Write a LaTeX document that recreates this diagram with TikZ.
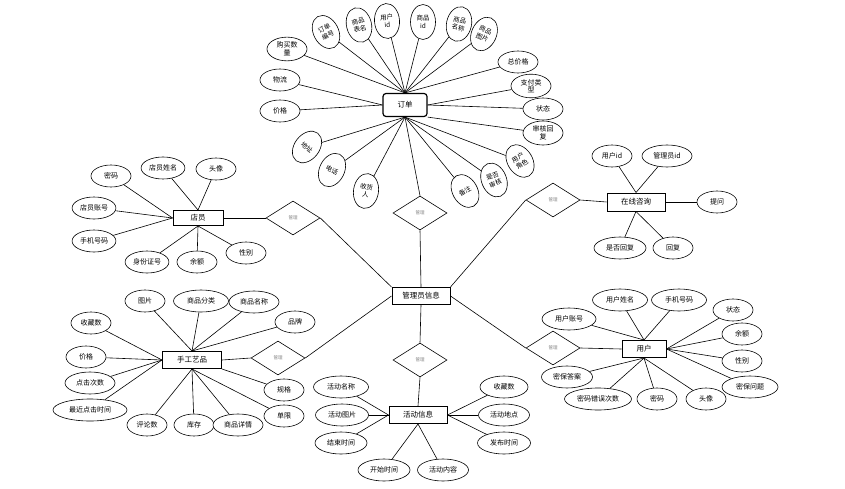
\documentclass[tikz,border=0pt]{standalone}
\usepackage{fontspec}
\newfontfamily\cjk{Noto Sans CJK SC}
\usetikzlibrary{shapes.geometric}

\begin{document}
\begin{tikzpicture}[x=1pt,y=-1pt,
  attr/.style={ellipse,draw,line width=0.6pt,fill=white,minimum width=40pt,minimum height=22pt,inner sep=1.5pt,align=center,font=\cjk\fontsize{7}{7.5}\selectfont},
  fan/.style={ellipse,draw,line width=0.6pt,fill=white,minimum width=25pt,minimum height=35pt,inner sep=0.5pt,align=center,font=\cjk\fontsize{6.5}{8}\selectfont},
  entity/.style={rectangle,draw,line width=1pt,fill=white,minimum height=17pt,inner sep=2pt,font=\cjk\fontsize{7.5}{8}\selectfont},
  rel/.style={diamond,draw,line width=0.6pt,fill=white,minimum width=54pt,minimum height=34pt,inner sep=0pt,text=gray,font=\cjk\fontsize{4.5}{5}\selectfont},
  link/.style={line width=0.6pt}]
  \useasboundingbox (0,0) rectangle (845,489);

  % entities
  \node[entity,rounded corners=3pt,minimum width=44pt,minimum height=23pt,line width=1.2pt] (order) at (405,105) {订单};
  \node[entity,minimum width=50pt,minimum height=15pt] (clerk)   at (198,218) {店员};
  \node[entity,minimum width=58pt,minimum height=18pt] (consult) at (636,202) {在线咨询};
  \node[entity,minimum width=59pt] (craft) at (192,360) {手工艺品};
  \node[entity,minimum width=58pt] (admin) at (421,296) {管理员信息};
  \node[entity,minimum width=58pt] (act)   at (418,415) {活动信息};
  \node[entity,minimum width=44pt] (user)  at (644,349) {用户};

  % relations
  \node[rel] (mgClerk)   at (293,218) {管理};
  \node[rel] (mgOrder)   at (420,213) {管理};
  \node[rel] (mgConsult) at (553,200) {管理};
  \node[rel] (mgCraft)   at (278,358) {管理};
  \node[rel] (mgAct)     at (420,360) {管理};
  \node[rel] (mgUser)    at (553,348) {管理};

  % order
  \node[fan,rotate=28]  (oNo)    at (326,32) {订单\\编号};
  \node[fan,rotate=14]  (oTable) at (359,25) {商品\\表名};
  \node[fan,rotate=4]   (oUid)   at (387,21) {用户\\id};
  \node[fan]            (oGid)   at (423,22) {商品\\id};
  \node[fan,rotate=-12] (oGname) at (459,24) {商品\\名称};
  \node[fan,rotate=-24] (oGpic)  at (484,34) {商品\\图片};
  \node[fan,rotate=-38] (oAddr)  at (307,147) {地址};
  \node[fan,rotate=-26] (oTel)   at (332,170) {电话};
  \node[fan,rotate=-8]  (oRecv)  at (366,191) {收货\\人};
  \node[fan,rotate=30]  (oNote)  at (465,191) {备注};
  \node[fan,rotate=22]  (oAudit) at (494,180) {是否\\审核};
  \node[fan,rotate=32]  (oRole)  at (520,161) {用户\\角色};
  \node[attr] (oNum)    at (287,49)  {购买数\\量};
  \node[attr] (oShip)   at (280,80)  {物流};
  \node[attr] (oPrice)  at (280,111) {价格};
  \node[attr] (oTotal)  at (518,62)  {总价格};
  \node[attr] (oPay)    at (531,86)  {支付类\\型};
  \node[attr] (oState)  at (543,109) {状态};
  \node[attr] (oReply)  at (543,133) {审核回\\复};

  % clerk
  \node[attr] (cPwd)   at (111,176) {密码};
  \node[attr] (cName)  at (163,168) {店员姓名};
  \node[attr] (cHead)  at (216,169) {头像};
  \node[attr] (cAcc)   at (94,208)  {店员账号};
  \node[attr] (cTel)   at (94,241)  {手机号码};
  \node[attr] (cId)    at (147,262) {身份证号};
  \node[attr] (cMoney) at (197,262) {余额};
  \node[attr] (cSex)   at (246,253) {性别};

  % consult
  \node[attr] (qUid)   at (612,156) {用户id};
  \node[attr,minimum width=50pt] (qAid) at (667,156) {管理员id};
  \node[attr] (qAsk)   at (717,202) {提问};
  \node[attr,minimum width=52pt] (qDone) at (620,248) {是否回复};
  \node[attr] (qAns)   at (673,248) {回复};

  % craft
  \node[attr] (gPic)   at (145,301) {图片};
  \node[attr,minimum width=55pt] (gType) at (201,301) {商品分类};
  \node[attr,minimum width=50pt] (gName) at (254,302) {商品名称};
  \node[attr] (gBrand) at (295,322) {品牌};
  \node[attr] (gFav)   at (91,323)  {收藏数};
  \node[attr] (gPrice) at (86,357)  {价格};
  \node[attr,minimum width=50pt] (gClick) at (90,383) {点击次数};
  \node[attr,minimum width=74pt] (gLast)  at (90,410) {最近点击时间};
  \node[attr] (gCmt)   at (147,425) {评论数};
  \node[attr] (gStock) at (194,425) {库存};
  \node[attr,minimum width=50pt] (gInfo) at (238,425) {商品详情};
  \node[attr] (gSpec)  at (284,390) {规格};
  \node[attr] (gLimit) at (284,416) {单限};

  % activity
  \node[attr,minimum width=55pt] (aName)  at (341,387) {活动名称};
  \node[attr,minimum width=53pt] (aPic)   at (342,415) {活动图片};
  \node[attr,minimum width=52pt] (aEnd)   at (341,443) {结束时间};
  \node[attr,minimum width=52pt] (aStart) at (384,470) {开始时间};
  \node[attr,minimum width=51pt] (aText)  at (443,470) {活动内容};
  \node[attr,minimum width=48pt] (aFav)   at (504,387) {收藏数};
  \node[attr,minimum width=51pt] (aPlace) at (504,415) {活动地点};
  \node[attr,minimum width=53pt] (aPub)   at (504,443) {发布时间};

  % user
  \node[attr,minimum width=55pt] (uName) at (620,300) {用户姓名};
  \node[attr,minimum width=55pt] (uTel)  at (679,300) {手机号码};
  \node[attr,minimum width=54pt] (uAcc)  at (569,319) {用户账号};
  \node[attr] (uState) at (733,310) {状态};
  \node[attr] (uMoney) at (742,334) {余额};
  \node[attr] (uSex)   at (742,361) {性别};
  \node[attr,minimum width=56pt] (uQue) at (750,387) {密保问题};
  \node[attr,minimum width=51pt] (uAns) at (567,377) {密保答案};
  \node[attr,minimum width=67pt] (uErr) at (598,399) {密码错误次数};
  \node[attr] (uPwd)  at (657,399) {密码};
  \node[attr] (uHead) at (706,399) {头像};

  % links
  \foreach \a in {oNo,oTable,oUid,oGid,oGname,oGpic,oNum,oTotal}
    \draw[link] (\a) -- (order.north);
  \foreach \a in {oAddr,oTel,oRecv,oNote,oAudit,oRole}
    \draw[link] (\a) -- (order.south);
  \draw[link] (oShip) -- (order.west);
  \draw[link] (oPrice) -- (order.west);
  \draw[link] (oPay) -- (order.east);
  \draw[link] (oState) -- (order.east);
  \draw[link] (oReply) -- (order.south east);

  \foreach \a in {cPwd,cAcc,cTel} \draw[link] (\a) -- (clerk.west);
  \foreach \a in {cName,cHead} \draw[link] (\a) -- (clerk.north);
  \foreach \a in {cId,cMoney,cSex} \draw[link] (\a) -- (clerk.south);

  \foreach \a in {qUid,qAid} \draw[link] (\a) -- (consult.north);
  \foreach \a in {qDone,qAns} \draw[link] (\a) -- (consult.south);
  \draw[link] (qAsk) -- (consult.east);

  \foreach \a in {gPic,gType,gName,gBrand} \draw[link] (\a) -- (craft.north);
  \foreach \a in {gFav,gPrice,gClick,gLast} \draw[link] (\a) -- (craft.west);
  \foreach \a in {gCmt,gStock,gInfo,gLimit} \draw[link] (\a) -- (craft.south);
  \draw[link] (gSpec) -- (craft.south east);

  \foreach \a in {aName,aPic,aEnd} \draw[link] (\a) -- (act.west);
  \foreach \a in {aStart,aText} \draw[link] (\a) -- (act.south);
  \foreach \a in {aFav,aPlace,aPub} \draw[link] (\a) -- (act.east);

  \foreach \a in {uName,uTel,uAcc} \draw[link] (\a) -- (user.north);
  \foreach \a in {uState,uMoney,uSex,uQue} \draw[link] (\a) -- (user.east);
  \foreach \a in {uAns,uErr,uPwd,uHead} \draw[link] (\a) -- (user.south);

  % relations
  \draw[link] (order.south) -- (mgOrder.north);
  \draw[link] (mgOrder.south) -- (admin.north);
  \draw[link] (clerk.east) -- (mgClerk.west);
  \draw[link] (mgClerk.east) -- (admin.north west);
  \draw[link] (consult.west) -- (mgConsult.east);
  \draw[link] (mgConsult.west) -- (admin.north east);
  \draw[link] (craft.east) -- (mgCraft.west);
  \draw[link] (mgCraft.east) -- (admin.west);
  \draw[link] (admin.south) -- (mgAct.north);
  \draw[link] (mgAct.south) -- (act.north);
  \draw[link] (user.west) -- (mgUser.east);
  \draw[link] (mgUser.west) -- (admin.east);
\end{tikzpicture}
\end{document}
